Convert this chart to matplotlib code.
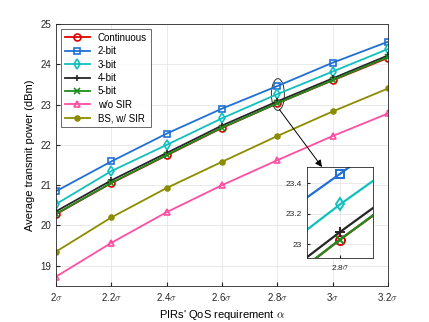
import numpy as np
import matplotlib
matplotlib.use('Agg')
import matplotlib.pyplot as plt
from matplotlib.patches import Ellipse

plt.rcParams['font.family'] = ['Liberation Sans', 'DejaVu Sans']
plt.rcParams['mathtext.fontset'] = 'cm'

# data
alpha = [2.0, 2.2, 2.4, 2.6, 2.8, 3.0, 3.2]
xticklabels = ['2$\\sigma$', '2.2$\\sigma$', '2.4$\\sigma$', '2.6$\\sigma$', '2.8$\\sigma$', '3$\\sigma$', '3.2$\\sigma$']
continuous = [20.28, 21.05, 21.74, 22.42, 23.03, 23.60, 24.16]
bit2 = [20.85, 21.59, 22.28, 22.90, 23.46, 24.04, 24.56]
bit3 = [20.53, 21.35, 22.00, 22.66, 23.26, 23.82, 24.38]
bit4 = [20.35, 21.12, 21.80, 22.48, 23.08, 23.65, 24.22]
bit5 = [20.29, 21.06, 21.75, 22.43, 23.03, 23.61, 24.18]
wo_sir = [18.73, 19.57, 20.33, 21.00, 21.62, 22.22, 22.78]
bs_sir = [19.35, 20.20, 20.93, 21.58, 22.22, 22.83, 23.40]

series = [
    ('Continuous', continuous, '#e00000', 'o', 'none', 5),
    ('2-bit', bit2, '#1f6fd6', 's', 'none', 4.5),
    ('3-bit', bit3, '#10bfbf', 'd', 'none', 5),
    ('4-bit', bit4, '#262626', '+', None, 5),
    ('5-bit', bit5, '#1e8c1e', 'x', None, 4),
    ('w/o SIR', wo_sir, '#ff4fa3', '^', 'none', 5),
    ('BS, w/ SIR', bs_sir, '#8c8c00', 'o', '#8c8c00', 3.5),
]

fig = plt.figure(figsize=(4.29, 3.22), dpi=100)
ax = fig.add_axes([0.1305, 0.112, 0.774, 0.8135])

for name, y, c, m, fc, ms in series:
    kw = dict(color=c, marker=m, markersize=ms, linewidth=1.3, markeredgewidth=1.2, label=name)
    if fc is not None:
        kw['markerfacecolor'] = fc
    ax.plot(alpha, y, **kw)

ax.set_xlim(2.0, 3.2)
ax.set_ylim(18.5, 25)
ax.set_xticks(alpha)
ax.set_xticklabels(xticklabels)
ax.set_yticks([19, 20, 21, 22, 23, 24, 25])
ax.tick_params(direction='in', labelsize=7, colors='#262626', length=3)
ax.grid(True, color='#e6e6e6', linewidth=0.6)
ax.set_axisbelow(True)
for s in ax.spines.values():
    s.set_color('#262626')
    s.set_linewidth(0.6)
ax.set_xlabel("PIRs' QoS requirement $\\alpha$", fontsize=8)
ax.set_ylabel('Average transmit power (dBm)', fontsize=8)

leg = ax.legend(loc='upper left', fontsize=7, frameon=True, fancybox=False,
                edgecolor='#262626', borderpad=0.4, handlelength=2.6,
                labelspacing=0.35, borderaxespad=0.5)
leg.get_frame().set_linewidth(0.6)

# ellipse around the zoomed region
ax.add_patch(Ellipse((2.802, 23.25), 0.047, 0.79, fill=False, edgecolor='#333333', linewidth=0.7))

# inset
axin = fig.add_axes([0.7156, 0.1988, 0.1538, 0.2826])
for name, y, c, m, fc, ms in series[:5]:
    kw = dict(color=c, marker=m, markersize=ms + 1.5, linewidth=1.6, markeredgewidth=1.4)
    if fc is not None:
        kw['markerfacecolor'] = fc
    axin.plot(alpha, y, **kw)
axin.set_xlim(2.745, 2.855)
axin.set_ylim(22.91, 23.505)
axin.set_xticks([2.8])
axin.set_xticklabels(['2.8$\\sigma$'])
axin.set_yticks([23, 23.2, 23.4])
axin.set_yticklabels(['23', '23.2', '23.4'])
axin.tick_params(direction='in', labelsize=6, colors='#262626', length=2)
axin.grid(True, color='#e6e6e6', linewidth=0.6)
for s in axin.spines.values():
    s.set_color('#262626')
    s.set_linewidth(0.6)

ax.annotate('', xy=(322 / 429, 1 - 167 / 322), xycoords='figure fraction',
            xytext=(2.807, 22.88), textcoords='data',
            arrowprops=dict(arrowstyle='-|>', color='black', linewidth=0.7, mutation_scale=10,
                            shrinkA=0, shrinkB=0))

fig.savefig('out.png', dpi=100)
